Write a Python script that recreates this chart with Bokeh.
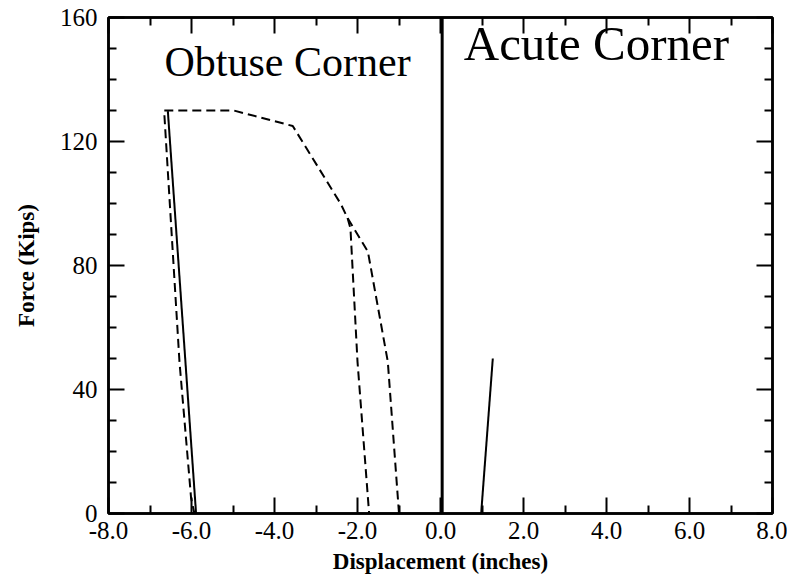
from bokeh.plotting import figure
from bokeh.models import LinearAxis, FixedTicker, Span, Range1d, CustomJSTickFormatter
from bokeh.core.properties import value
from bokeh.embed import file_html
from bokeh.resources import INLINE

# Data (displacement in inches, force in kips)
obtuse_unload_x = [-6.57, -5.89]
obtuse_unload_y = [129.8, 0.0]

obtuse_main_x = [-1.00, -1.27, -1.75, -2.24, -2.40, -3.56, -4.98, -6.66, -6.29, -6.01, -5.93]
obtuse_main_y = [0.0, 49.0, 84.5, 95.3, 99.8, 125.0, 130.0, 130.0, 49.0, 5.0, 0.0]

obtuse_branch_x = [-2.24, -2.17, -2.00, -1.72]
obtuse_branch_y = [95.3, 92.0, 49.0, 0.0]

acute_x = [0.98, 1.26]
acute_y = [0.0, 50.0]

x_major = [-8, -6, -4, -2, 0, 2, 4, 6, 8]
x_minor = [-7, -5, -3, -1, 1, 3, 5, 7]
y_major = [0, 40, 80, 120, 160]
y_minor = [10, 20, 30, 50, 60, 70, 90, 100, 110, 130, 140, 150]

obtuse_label = "Obtuse Corner"
obtuse_label_pos = (-6.65, 145.6)
acute_label = "Acute Corner"
acute_label_pos = (0.56, 151.5)

FONT = "Liberation Serif"

p = figure(width=787, height=580, output_backend="svg", toolbar_location=None,
           x_range=Range1d(-8, 8), y_range=Range1d(0, 160),
           min_border_left=108, min_border_right=15, min_border_top=17, min_border_bottom=67)
p.grid.visible = False
p.outline_line_color = "black"
p.outline_line_width = 2.5
p.background_fill_color = "white"
p.border_fill_color = "white"

def style_axis(ax, major, minor, show_labels):
    ax.ticker = FixedTicker(ticks=major, minor_ticks=minor)
    ax.major_tick_in = 16
    ax.major_tick_out = 0
    ax.minor_tick_in = 8
    ax.minor_tick_out = 0
    ax.major_tick_line_width = 2
    ax.minor_tick_line_width = 2
    ax.axis_line_width = 2.5
    ax.major_tick_line_color = "black"
    ax.minor_tick_line_color = "black"
    ax.axis_line_color = "black"
    ax.major_label_text_font = FONT
    ax.major_label_text_font_size = "25px"
    ax.major_label_text_color = "black"
    if not show_labels:
        ax.major_label_text_alpha = 0
        ax.major_label_standoff = 0

xa = p.xaxis[0]
style_axis(xa, x_major, x_minor, True)
xa.formatter = CustomJSTickFormatter(code="return tick.toFixed(1);")
xa.major_label_standoff = 8
xa.axis_label = "Displacement (inches)"
xa.axis_label_text_font = FONT
xa.axis_label_text_font_style = "bold"
xa.axis_label_text_font_size = "23px"
xa.axis_label_standoff = 7
xa.axis_label_text_color = "black"

ya = p.yaxis[0]
style_axis(ya, y_major, y_minor, True)
ya.major_label_standoff = 11
ya.axis_label = "Force (Kips)"
ya.axis_label_text_font = FONT
ya.axis_label_text_font_style = "bold"
ya.axis_label_text_font_size = "23px"
ya.axis_label_standoff = 18
ya.axis_label_text_color = "black"

top = LinearAxis(formatter=CustomJSTickFormatter(code="return '';"))
style_axis(top, x_major, x_minor, False)
p.add_layout(top, "above")
right = LinearAxis(formatter=CustomJSTickFormatter(code="return '';"))
style_axis(right, y_major, y_minor, False)
p.add_layout(right, "right")

p.add_layout(Span(location=0.04, dimension="height", line_color="black", line_width=3))

p.line(obtuse_unload_x, obtuse_unload_y, line_color="black", line_width=2)
p.line(obtuse_main_x, obtuse_main_y, line_color="black", line_width=2, line_dash="9 5")
p.line(obtuse_branch_x, obtuse_branch_y, line_color="black", line_width=2, line_dash="9 5")
p.line(acute_x, acute_y, line_color="black", line_width=2)

p.text(x=[obtuse_label_pos[0]], y=[obtuse_label_pos[1]], text=[obtuse_label], text_font=value(FONT),
       text_font_size="42px", text_color="black", text_baseline="alphabetic", text_align="left")
p.text(x=[acute_label_pos[0]], y=[acute_label_pos[1]], text=[acute_label], text_font=value(FONT),
       text_font_size="49px", text_color="black", text_baseline="alphabetic", text_align="left")

open("out.html", "w").write(file_html(p, INLINE))
